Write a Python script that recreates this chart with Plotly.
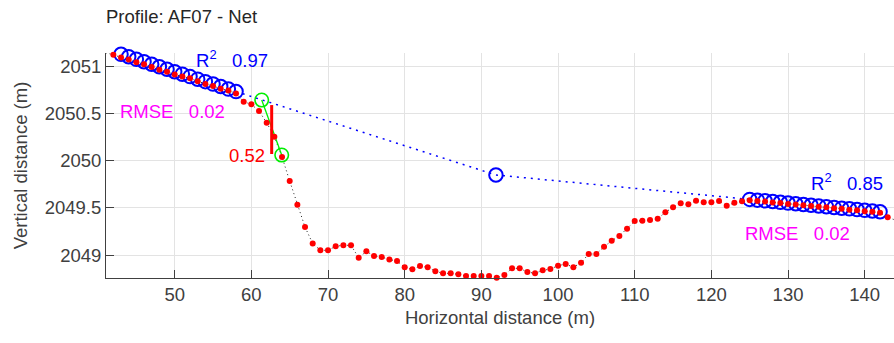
import plotly.graph_objects as go

# Profile points (horizontal distance, elevation)
dist = list(range(41, 145))
elev = [
    2051.14, 2051.12, 2051.09, 2051.07, 2051.04, 2051.02, 2050.99, 2050.96, 2050.94, 2050.91,
    2050.89, 2050.87, 2050.84, 2050.81, 2050.79, 2050.76, 2050.74, 2050.71,
    2050.622, 2050.595, 2050.524, 2050.400, 2050.252, 2050.037, 2049.783, 2049.532, 2049.296,
    2049.122, 2049.050, 2049.050, 2049.093, 2049.103, 2049.103, 2048.970, 2049.040, 2048.991,
    2048.979, 2048.952, 2048.937, 2048.870, 2048.849, 2048.884, 2048.870, 2048.828, 2048.806,
    2048.806, 2048.796, 2048.778, 2048.778, 2048.778, 2048.778, 2048.760, 2048.788, 2048.859,
    2048.859, 2048.820, 2048.806, 2048.838, 2048.852, 2048.887, 2048.905, 2048.870, 2048.919,
    2049.011, 2049.011, 2049.088, 2049.151, 2049.201, 2049.278, 2049.360, 2049.362, 2049.372,
    2049.384, 2049.452, 2049.505, 2049.547, 2049.537, 2049.575, 2049.558, 2049.558, 2049.571,
    2049.522, 2049.553, 2049.568,
    2049.580, 2049.572, 2049.566, 2049.556, 2049.550, 2049.541, 2049.536, 2049.527, 2049.520,
    2049.512, 2049.505, 2049.496, 2049.490, 2049.480, 2049.474, 2049.463, 2049.457, 2049.448,
    2049.399, 2049.370,
]

# Points used in the upper (left) fit
fit1_x = [42, 43, 44, 45, 46, 47, 48, 49, 50, 51, 52, 53, 54, 55, 56, 57, 58]
fit1_y = [2051.150, 2051.124, 2051.098, 2051.071, 2051.045, 2051.019, 2050.993, 2050.966,
          2050.940, 2050.914, 2050.888, 2050.861, 2050.835, 2050.809, 2050.783, 2050.756,
          2050.730]
# Points used in the lower (right) fit
fit2_x = [125, 126, 127, 128, 129, 130, 131, 132, 133, 134, 135, 136, 137, 138, 139, 140, 141, 142]
fit2_y = [2049.589, 2049.581, 2049.574, 2049.566, 2049.558, 2049.550, 2049.543, 2049.535,
          2049.527, 2049.520, 2049.512, 2049.504, 2049.496, 2049.489, 2049.481, 2049.473,
          2049.466, 2049.458]

# Connection between fits via mid point
link_x = [58, 91.9, 125]
link_y = [2050.730, 2049.847, 2049.589]
mid_x = [91.9]
mid_y = [2049.847]

# Scarp top / bottom
scarp_x = [61.35, 63.96]
scarp_y = [2050.640, 2050.058]

# Vertical offset bar
offset_x = [62.65, 62.65]
offset_y = [2050.587, 2050.069]
offset_label = "0.52"

r2_left, rmse_left = "0.97", "0.02"
r2_right, rmse_right = "0.85", "0.02"

xtick_vals = [50, 60, 70, 80, 90, 100, 110, 120, 130, 140]
ytick_vals = [2049, 2049.5, 2050, 2050.5, 2051]
ytick_text = ["2049", "2049.5", "2050", "2050.5", "2051"]

FONT = "Liberation Sans, Arial, sans-serif"
FS = 18.5
AXC = "#404040"

fig = go.Figure()

circle_marker = dict(symbol="circle-open", size=13.5, color="#0000ff",
                     line=dict(width=2, color="#0000ff"))

fig.add_trace(go.Scatter(x=dist, y=elev, mode="lines",
                         line=dict(color="#222222", width=1, dash="1px,3px"),
                         cliponaxis=False, hoverinfo="skip"))
fig.add_trace(go.Scatter(x=link_x, y=link_y, mode="lines",
                         line=dict(color="#0000ff", width=1.5, dash="2px,5px"),
                         cliponaxis=False))
fig.add_trace(go.Scatter(x=fit1_x, y=fit1_y, mode="markers", marker=circle_marker,
                         cliponaxis=False))
fig.add_trace(go.Scatter(x=fit2_x, y=fit2_y, mode="markers", marker=circle_marker,
                         cliponaxis=False))
fig.add_trace(go.Scatter(x=mid_x, y=mid_y, mode="markers", marker=circle_marker,
                         cliponaxis=False))
fig.add_trace(go.Scatter(x=scarp_x, y=scarp_y, mode="lines+markers",
                         line=dict(color="#00ee00", width=1.3),
                         marker=dict(symbol="circle-open", size=13.5, color="#00ee00",
                                     line=dict(width=1.6, color="#00ee00")),
                         cliponaxis=False))
fig.add_trace(go.Scatter(x=dist, y=elev, mode="markers",
                         marker=dict(symbol="circle", size=6, color="#ff0000",
                                     line=dict(width=0)),
                         cliponaxis=False))
fig.add_trace(go.Scatter(x=offset_x, y=offset_y, mode="lines",
                         line=dict(color="#ff0000", width=3),
                         cliponaxis=False))

ann = [
    dict(x=52.5, y=2051.079, text="R<sup>2</sup>   " + r2_left, color="#0000ff"),
    dict(x=42.6, y=2050.524, text="RMSE   " + rmse_left, color="#ff00ff"),
    dict(x=132.7, y=2049.772, text="R<sup>2</sup>   " + r2_right, color="#0000ff"),
    dict(x=124.1, y=2049.23, text="RMSE   " + rmse_right, color="#ff00ff"),
]
annotations = []
for a in ann:
    annotations.append(dict(x=a["x"], y=a["y"], xref="x", yref="y", text=a["text"],
                            showarrow=False, xanchor="left", yanchor="middle",
                            font=dict(family=FONT, size=FS, color=a["color"])))
annotations.append(dict(x=62.0, y=2050.05, xref="x", yref="y", text=offset_label,
                        showarrow=False, xanchor="right", yanchor="middle",
                        font=dict(family=FONT, size=FS, color="#ff0000")))

fig.update_layout(
    width=894, height=343,
    margin=dict(l=106, r=0, t=53, b=65),
    paper_bgcolor="white", plot_bgcolor="white",
    showlegend=False,
    font=dict(family=FONT, size=FS, color=AXC),
    title=dict(text="Profile: AF07 - Net", x=106 / 894, xref="container", xanchor="left",
               y=1 - 17 / 343, yref="container", yanchor="middle",
               font=dict(family=FONT, size=FS, color="#262626")),
    annotations=annotations,
)
fig.update_xaxes(
    range=[41.04, 143.82], tickvals=xtick_vals,
    showgrid=True, gridcolor="#e3e3e3", gridwidth=1, zeroline=False,
    showline=True, linecolor=AXC, linewidth=1,
    ticks="inside", ticklen=8, tickcolor=AXC, tickwidth=1,
    tickfont=dict(family=FONT, size=FS, color=AXC),
    title=dict(text="Horizontal distance (m)", font=dict(family=FONT, size=FS, color=AXC),
               standoff=6),
)
fig.update_yaxes(
    range=[2048.757, 2051.138], tickvals=ytick_vals, ticktext=ytick_text,
    showgrid=True, gridcolor="#e3e3e3", gridwidth=1, zeroline=False,
    showline=True, linecolor=AXC, linewidth=1,
    ticks="inside", ticklen=8, tickcolor=AXC, tickwidth=1,
    tickfont=dict(family=FONT, size=FS, color=AXC),
    title=dict(text="Vertical distance (m)", font=dict(family=FONT, size=FS, color=AXC),
               standoff=12),
)

fig.write_html("out.html")
